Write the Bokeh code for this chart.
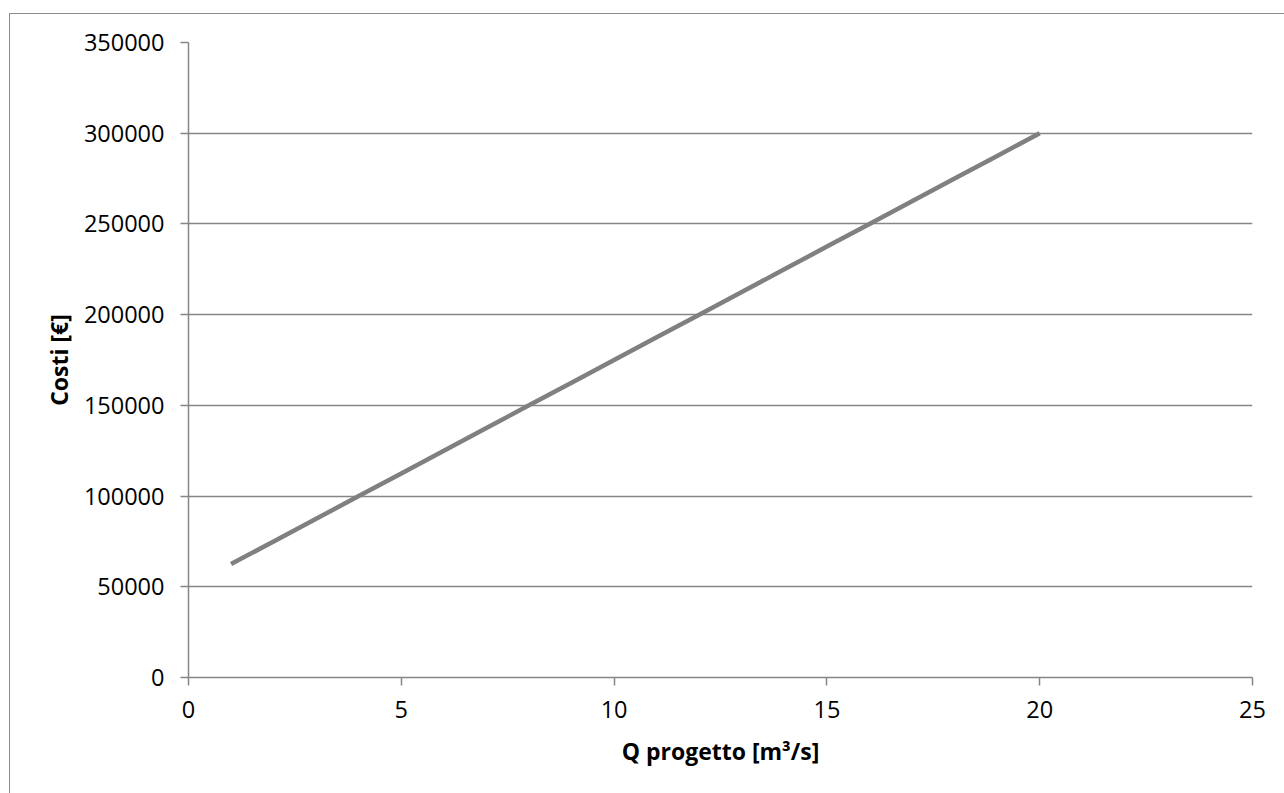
from bokeh.plotting import figure
from bokeh.models import Range1d, FixedTicker, NumeralTickFormatter
from bokeh.embed import file_html
from bokeh.resources import INLINE

q_progetto = [1, 2, 3, 4, 5, 6, 7, 8, 9, 10, 11, 12, 13, 14, 15, 16, 17, 18, 19, 20]
costi = [62500, 75000, 87500, 100000, 112500, 125000, 137500, 150000, 162500, 175000,
         187500, 200000, 212500, 225000, 237500, 250000, 262500, 275000, 287500, 300000]
x_ticks = [0, 5, 10, 15, 20, 25]
y_ticks = [0, 50000, 100000, 150000, 200000, 250000, 300000, 350000]

GRAY = "#868686"
FONT = "Open Sans"

p = figure(width=1275, height=780, output_backend="svg", toolbar_location=None,
           x_range=Range1d(0, 25), y_range=Range1d(0, 350000),
           min_border_left=178, min_border_top=28, min_border_right=33, min_border_bottom=117,
           margin=(13, 0, 0, 9))
p.styles = {"border-left": "1.5px solid #8c8c8c", "border-top": "1.5px solid #8c8c8c"}
p.outline_line_color = None
p.background_fill_color = "white"
p.border_fill_color = "white"

p.line(q_progetto, costi, line_color="#808080", line_width=4.5)

p.xaxis.ticker = FixedTicker(ticks=x_ticks)
p.yaxis.ticker = FixedTicker(ticks=y_ticks)
p.yaxis.formatter = NumeralTickFormatter(format="0")
p.xaxis.formatter = NumeralTickFormatter(format="0")

for ax in (p.xaxis[0], p.yaxis[0]):
    ax.axis_line_color = GRAY
    ax.axis_line_width = 1.5
    ax.major_tick_line_color = GRAY
    ax.major_tick_line_width = 1.5
    ax.major_tick_out = 8
    ax.major_tick_in = 0
    ax.minor_tick_line_color = None
    ax.major_label_text_font = FONT
    ax.major_label_text_font_size = "23.5px"
    ax.major_label_text_color = "black"
    ax.axis_label_text_font = FONT
    ax.axis_label_text_font_size = "23px"
    ax.axis_label_text_font_style = "bold"
    ax.axis_label_text_color = "black"

p.xaxis.axis_label = "Q progetto [m³/s]"
p.yaxis.axis_label = "Costi [€]"
p.xaxis.major_label_standoff = 15
p.yaxis.major_label_standoff = 16
p.xaxis.axis_label_standoff = 14
p.yaxis.axis_label_standoff = 6

p.xgrid.grid_line_color = None
p.ygrid.grid_line_color = GRAY
p.ygrid.grid_line_width = 1.5

open("out.html", "w").write(file_html(p, INLINE))
